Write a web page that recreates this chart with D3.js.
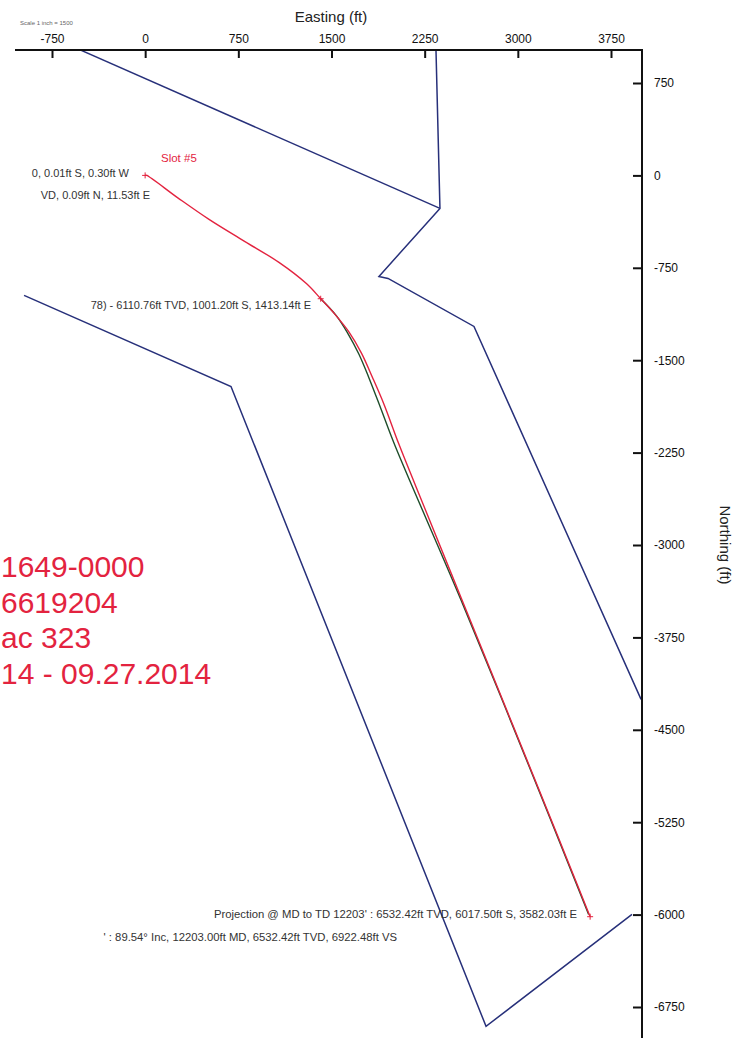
<!DOCTYPE html>
<html>
<head>
<meta charset="utf-8">
<script src="https://cdn.jsdelivr.net/npm/d3@7"></script>
<style>
  html, body { margin: 0; padding: 0; background: #fff; }
  svg { display: block; font-family: "Liberation Sans", Arial, sans-serif; }
</style>
</head>
<body>
<div id="chart"></div>
<script>
const W = 749, H = 1038

// axis ticks
const eastTicks  = [-750, 0, 750, 1500, 2250, 3000, 3750]
const northTicks = [750, 0, -750, -1500, -2250, -3000, -3750, -4500, -5250, -6000, -6750]

// actual wellbore (red), [easting, northing]
const actualE = [-0.3, 11.5, 260, 514, 800, 1077, 1300, 1413, 1530, 1640, 1740, 1830, 1923, 2043, 2250, 2540, 2850, 3160, 3380, 3582]
const actualN = [-0.01, 0.09, -180, -357, -535, -706, -880, -1001, -1130, -1270, -1440, -1640, -1859, -2183, -2700, -3420, -4190, -4960, -5510, -6017]

// plan (green)
const planE = [1413, 1540, 1630, 1720, 1800, 1900, 2010, 2540, 3060, 3570]
const planN = [-1001, -1140, -1280, -1450, -1640, -1900, -2190, -3440, -4720, -6000]

// hard lines (blue)
const hardA = [[-533, 1023], [2373, -268]]
const hardB = [[2341, 1023], [2373, -268], [1882, -820], [1955, -836], [2647, -1226], [3992, -4253]]
const hardC = [[-975, -974], [691, -1713], [2744, -6907], [3919, -5998]]

// marked stations
const stations = [[-0.3, -0.01], [1413, -1001], [3582, -6017]]

const svg = d3.select('#chart').append('svg')
  .attr('width', W).attr('height', H)

const x = d3.scaleLinear().domain([-750, 3750]).range([52, 611])
const y = d3.scaleLinear().domain([750, -6750]).range([83, 1007])

svg.append('clipPath').attr('id', 'clip')
  .append('rect').attr('x', 0).attr('y', 50).attr('width', 642).attr('height', H - 50)

const plot = svg.append('g').attr('clip-path', 'url(#clip)')

const line = d3.line().x(d => x(d[0])).y(d => y(d[1]))
const smooth = d3.line().x(d => x(d[0])).y(d => y(d[1])).curve(d3.curveCatmullRom)

// ── hard lines ─────────────────────────────────────────
;[hardA, hardB, hardC].forEach(pts => {
  plot.append('path').attr('d', line(pts))
    .attr('fill', 'none').attr('stroke', '#27307a').attr('stroke-width', 1.5)
})

// ── plan & actual ──────────────────────────────────────
plot.append('path').attr('d', smooth(planE.map((e, i) => [e, planN[i]])))
  .attr('fill', 'none').attr('stroke', '#1f4d2a').attr('stroke-width', 1.4)

plot.append('path').attr('d', smooth(actualE.map((e, i) => [e, actualN[i]])))
  .attr('fill', 'none').attr('stroke', '#e3233f').attr('stroke-width', 1.4)

stations.forEach(([e, n]) => {
  const g = plot.append('g').attr('transform', `translate(${x(e)},${y(n)})`)
  g.append('line').attr('x1', -3).attr('x2', 3).attr('stroke', '#e3233f').attr('stroke-width', 1)
  g.append('line').attr('y1', -3).attr('y2', 3).attr('stroke', '#e3233f').attr('stroke-width', 1)
})

// ── axes ───────────────────────────────────────────────
const fmt = d => String(d)

const gTop = svg.append('g').attr('transform', 'translate(0,50)')
  .call(d3.axisTop(x).tickValues(eastTicks).tickFormat(fmt).tickSizeInner(-8).tickSizeOuter(0).tickPadding(7))
gTop.select('.domain').remove()
gTop.selectAll('.tick line').attr('stroke', '#111').attr('stroke-width', 2)
gTop.selectAll('.tick text').attr('fill', '#111').style('font-size', '12px')
svg.append('line').attr('x1', 15).attr('x2', 643).attr('y1', 50).attr('y2', 50)
  .attr('stroke', '#111').attr('stroke-width', 2)

const gRight = svg.append('g').attr('transform', 'translate(642,0)')
  .call(d3.axisRight(y).tickValues(northTicks).tickFormat(fmt).tickSizeInner(-9).tickSizeOuter(0).tickPadding(12))
gRight.select('.domain').remove()
gRight.selectAll('.tick line').attr('stroke', '#111').attr('stroke-width', 2)
gRight.selectAll('.tick text').attr('fill', '#111').style('font-size', '12px')
svg.append('line').attr('x1', 642).attr('x2', 642).attr('y1', 49).attr('y2', H)
  .attr('stroke', '#111').attr('stroke-width', 2)

svg.append('text').attr('x', 331).attr('y', 22).attr('text-anchor', 'middle')
  .style('font-size', '15px').attr('fill', '#222').text('Easting (ft)')
svg.append('text').attr('x', 20).attr('y', 25)
  .style('font-size', '6px').attr('fill', '#666').text('Scale 1 inch = 1500')
svg.append('text').attr('transform', 'translate(720,545) rotate(90)').attr('text-anchor', 'middle')
  .style('font-size', '15px').attr('fill', '#222').text('Northing (ft)')

// ── annotations ────────────────────────────────────────
const note = (txt, xe, yb, opts = {}) => svg.append('text')
  .attr('x', xe).attr('y', yb).attr('text-anchor', opts.anchor || 'end')
  .style('font-size', (opts.size || 11) + 'px').attr('fill', opts.color || '#333').text(txt)

note('Slot #5', 161, 162, { anchor: 'start', color: '#e3233f', size: 11.5 })
note('0, 0.01ft S, 0.30ft W', 129, 177)
note('VD, 0.09ft N, 11.53ft E', 150, 199)
note('78) - 6110.76ft TVD, 1001.20ft S, 1413.14ft E', 311, 309)
note("Projection @ MD to TD 12203' : 6532.42ft TVD, 6017.50ft S, 3582.03ft E", 577, 918, { size: 11.3 })
note("' : 89.54° Inc, 12203.00ft MD, 6532.42ft TVD, 6922.48ft VS", 397, 941, { size: 11.3 })

const bigRed = ['1649-0000', '6619204', 'ac 323', '14 - 09.27.2014']
bigRed.forEach((t, i) => note(t, 1, 577 + i * 35.5, { anchor: 'start', size: 30, color: '#e3233f' }))
</script>
</body>
</html>
